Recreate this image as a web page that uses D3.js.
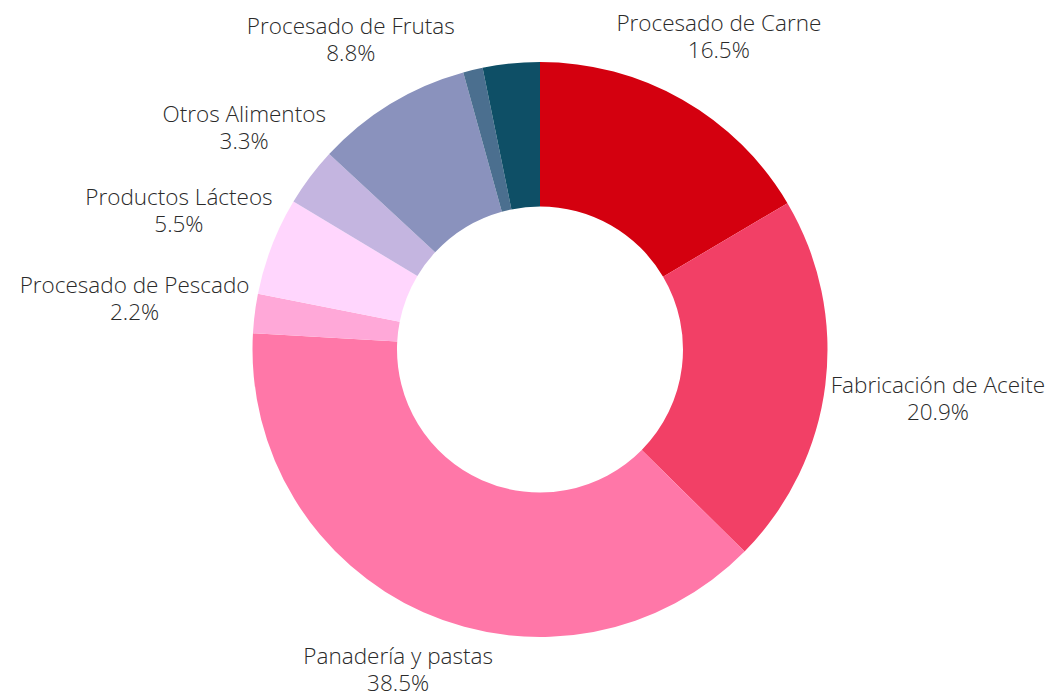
<!DOCTYPE html>
<meta charset="utf-8">
<html>
<head>
  <script src="https://d3js.org/d3.v7.min.js"></script>
  <style>
    body { margin: 0; background: #fff; }
    text { font-family: "Open Sans", sans-serif; font-weight: 300; fill: #2a2a2a; }
  </style>
</head>
<body>
<div id="chart"></div>
<script>
  // data, clockwise from the top
  const categories = ["Procesado de Carne", "Fabricación de Aceite", "Panadería y pastas",
    "Procesado de Pescado", "Productos Lácteos", "Otros Alimentos", "Procesado de Frutas",
    "Otros (a)", "Otros (b)"];
  const values = [16.5, 20.9, 38.5, 2.2, 5.5, 3.3, 8.8, 1.1, 3.2];
  const showLabel = [true, true, true, true, true, true, true, false, false];
  const colors = ["#d4000f", "#f24066", "#ff77a8", "#ffa8d8", "#ffd6fd", "#c4b5e0",
    "#8a92bd", "#4b6f8f", "#0e4f66"];

  const W = 1056, H = 700;
  const cx = 540, cy = 349.5, outerR = 287.5, innerR = 143;
  const fontSize = 22.5, lineH = 27;

  const svg = d3.select("#chart").append("svg")
    .attr("width", W).attr("height", H);
  const g = svg.append("g").attr("transform", `translate(${cx},${cy})`);

  const pie = d3.pie().sort(null).value(d => d.v);
  const arc = d3.arc().innerRadius(innerR).outerRadius(outerR);
  const data = categories.map((c, i) => ({ name: c, v: values[i], i: i }));
  const arcs = pie(data);

  g.selectAll("path.slice")
    .data(arcs)
    .join("path")
      .attr("class", "slice")
      .attr("d", arc)
      .attr("fill", d => colors[d.data.i]);

  // labels: box placed outside the ring along the mid angle
  const labelR = 292;
  const lab = g.append("g");
  arcs.filter(d => showLabel[d.data.i]).forEach(d => {
    const a = (d.startAngle + d.endAngle) / 2;
    const ux = Math.sin(a), uy = -Math.cos(a);
    const t = lab.append("text")
      .attr("text-anchor", "middle")
      .style("font-size", fontSize + "px");
    t.append("tspan").attr("x", 0).attr("dy", 0).text(d.data.name);
    t.append("tspan").attr("x", 0).attr("dy", lineH).text(d3.format(".1f")(d.data.v) + "%");
    const bb = t.node().getBBox();
    const hw = bb.width / 2, hh = bb.height / 2;
    const dist = labelR + hw * Math.abs(ux) + (hh - 8) * Math.abs(uy);
    const bx = dist * ux, by = dist * uy;
    // center the box at (bx, by)
    const oy = by - (bb.y + hh);
    t.attr("transform", `translate(${bx},${oy})`);
  });
</script>
</body>
</html>
